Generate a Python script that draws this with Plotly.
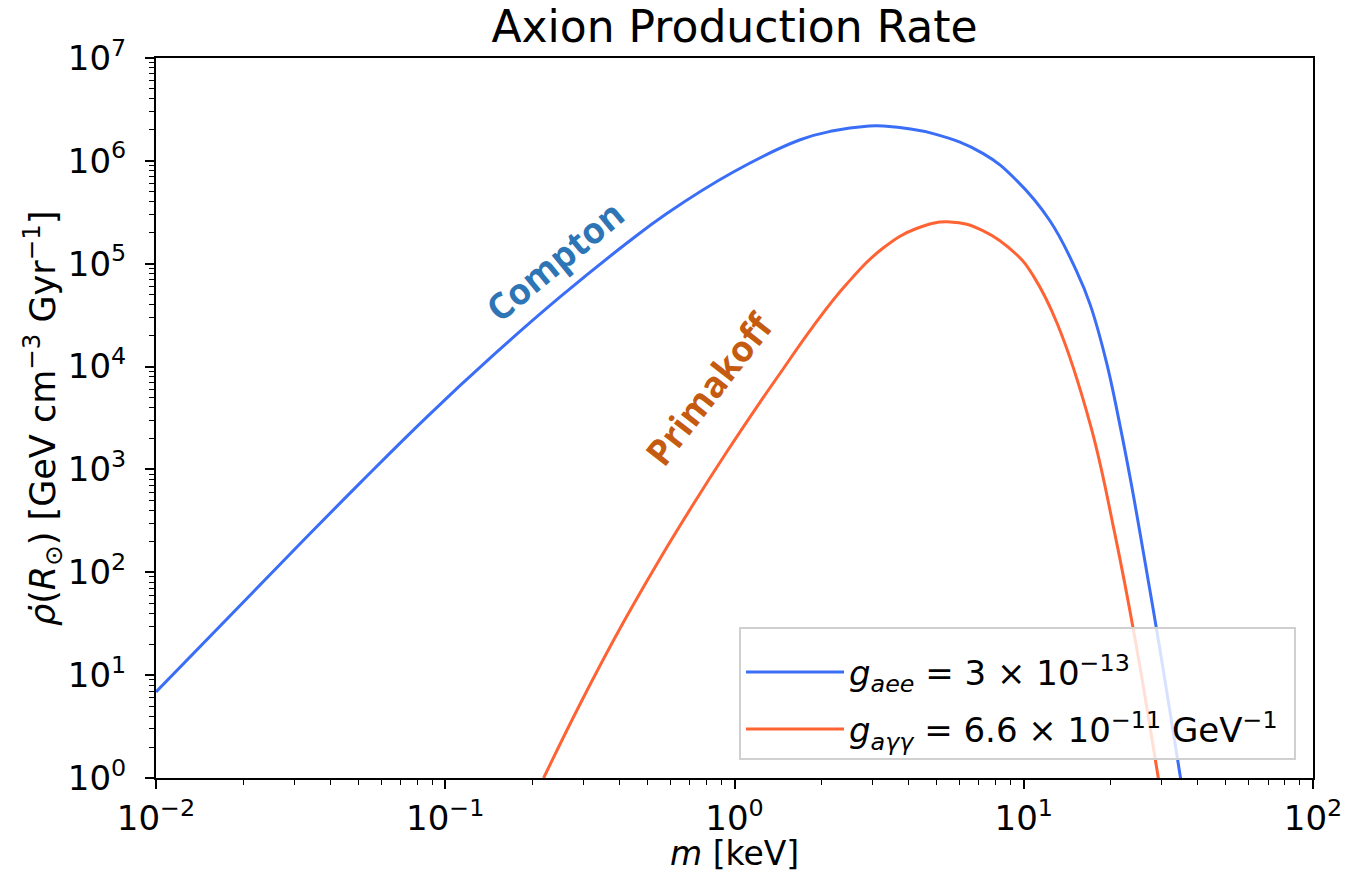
import plotly.graph_objects as go

# ---- data (m in keV, rho-dot in GeV cm^-3 Gyr^-1) ----
compton_m = [0.01, 0.0321, 0.0507, 0.0863, 0.1466, 0.2495, 0.4236, 0.5834, 0.9908,
             1.687, 2.198, 2.864, 3.273, 4.864, 7.244, 9.441, 12.30, 15.21, 16.98, 19.32,
             21.28, 23.50, 26.73, 29.44, 34.67, 36.3]
compton_rho = [6.86, 200, 736, 3.23e3, 1.29e4, 4.75e4, 1.58e5, 3.08e5, 7.8e5,
               1.603e6, 1.96e6, 2.17e6, 2.18e6, 1.84e6, 1.175e6, 6.46e5, 2.63e5, 8.5e4,
               3.98e4, 1.10e4, 3.12e3, 741, 94.2, 19.1, 1.09, 0.48]

primakoff_m = [0.2188, 0.2917, 0.4130, 0.5521, 0.7194, 0.9397, 1.2246, 1.4421, 1.862,
               2.438, 3.266, 4.256, 5.559, 7.244, 9.441, 10.79, 13.06, 16.98, 20.56,
               24.32, 28.97, 30.2]
primakoff_rho = [1.0, 5.16, 32.6, 134.9, 456, 1.476e3, 4.49e3, 8.71e3, 2.42e4,
                 6.31e4, 1.42e5, 2.20e5, 2.55e5, 2.09e5, 1.23e5, 7.62e4, 2.61e4, 2.74e3,
                 251, 21.6, 1.14, 0.55]

legend_names = ["<i>g<sub>aee</sub></i> = 3 × 10<sup>−13</sup>",
                "<i>g<sub>aγγ</sub></i> = 6.6 × 10<sup>−11</sup> GeV<sup>−1</sup>\u00a0"]
curve_labels = ["Compton", "Primakoff"]

x_tickvals = [1e-2, 1e-1, 1e0, 1e1, 1e2]
x_ticktext = ["10<sup>−2</sup>", "10<sup>−1</sup>", "10<sup>0</sup>", "10<sup>1</sup>", "10<sup>2</sup>"]
y_tickvals = [1e0, 1e1, 1e2, 1e3, 1e4, 1e5, 1e6, 1e7]
y_ticktext = ["10<sup>0</sup>", "10<sup>1</sup>", "10<sup>2</sup>", "10<sup>3</sup>",
              "10<sup>4</sup>", "10<sup>5</sup>", "10<sup>6</sup>", "10<sup>7</sup>"]

BLUE = "#3b6ef7"
ORANGE = "#ff6333"
FONT = "DejaVu Sans"

# plot-area geometry in pixels
L, R, T, B = 156, 1313, 58, 778
W, H = 1365, 874

fig = go.Figure()
fig.add_trace(go.Scatter(x=compton_m, y=compton_rho, mode="lines", legendgroup="a",
                         line=dict(color=BLUE, width=3, shape="spline", smoothing=1.2),
                         name=legend_names[0]))
fig.add_trace(go.Scatter(x=primakoff_m, y=primakoff_rho, mode="lines", legendgroup="b",
                         line=dict(color=ORANGE, width=3, shape="spline", smoothing=1.2),
                         name=legend_names[1]))

fig.add_annotation(x=-0.6206, y=5.034, xref="x", yref="y", text="<b>%s</b>" % curve_labels[0],
                   showarrow=False, textangle=-39.5,
                   font=dict(family="Open Sans", size=36, color="#2e75b6"))
fig.add_annotation(x=-0.088, y=3.79, xref="x", yref="y", text="<b>%s</b>" % curve_labels[1],
                   showarrow=False, textangle=-52,
                   font=dict(family="Open Sans", size=36, color="#c55a11"))

# axis titles as annotations for exact placement
fig.add_annotation(x=0.5, y=(B - 853) / (B - T), xref="paper", yref="paper",
                   text="<i>m</i> [keV]", showarrow=False, xanchor="center", yanchor="middle",
                   font=dict(family=FONT, size=33, color="black"))
fig.add_annotation(x=(42 - L) / (R - L), y=0.5, xref="paper", yref="paper",
                   text="<i>ρ̇</i>(<i>R</i><sub>⊙</sub>) [GeV cm<sup>−3</sup> Gyr<sup>−1</sup>]",
                   showarrow=False, textangle=-90, xanchor="center", yanchor="middle",
                   font=dict(family=FONT, size=35, color="black"))

axis_common = dict(showline=True, linecolor="black", linewidth=2, mirror=True,
                   ticks="outside", ticklen=9, tickwidth=1.5, tickcolor="black",
                   showgrid=False, zeroline=False,
                   tickfont=dict(family=FONT, size=34, color="black"),
                   minor=dict(ticks="outside", ticklen=5, tickwidth=1.2, tickcolor="black",
                              dtick="D1", showgrid=False))

fig.update_xaxes(type="log", range=[-2, 2], tickvals=x_tickvals, ticktext=x_ticktext,
                 ticklabelstandoff=0, **axis_common)
fig.update_yaxes(type="log", range=[0, 7], tickvals=y_tickvals, ticktext=y_ticktext,
                 ticklabelstandoff=12, **axis_common)

fig.update_layout(
    width=W, height=H,
    margin=dict(l=L, r=W - R, t=T, b=H - B, autoexpand=False),
    paper_bgcolor="white", plot_bgcolor="white",
    title=dict(text="Axion Production Rate", x=(L + R) / 2 / W, xanchor="center",
               y=1 - 27 / H, yanchor="middle", yref="container",
               font=dict(family=FONT, size=44, color="black")),
    legend=dict(x=(1296 - L) / (R - L), xanchor="right", y=(B - 760) / (B - T), yanchor="bottom",
                bgcolor="rgba(255,255,255,0.8)", bordercolor="#d0d0d0", borderwidth=2,
                font=dict(family=FONT, size=34, color="black"),
                title=dict(text="\u00a0", font=dict(family=FONT, size=11)),
                itemwidth=98, tracegroupgap=10),
    showlegend=True,
)

fig.write_html("out.html", config={"displayModeBar": False},
               post_script="document.body.style.margin='0';document.body.style.padding='0';")
